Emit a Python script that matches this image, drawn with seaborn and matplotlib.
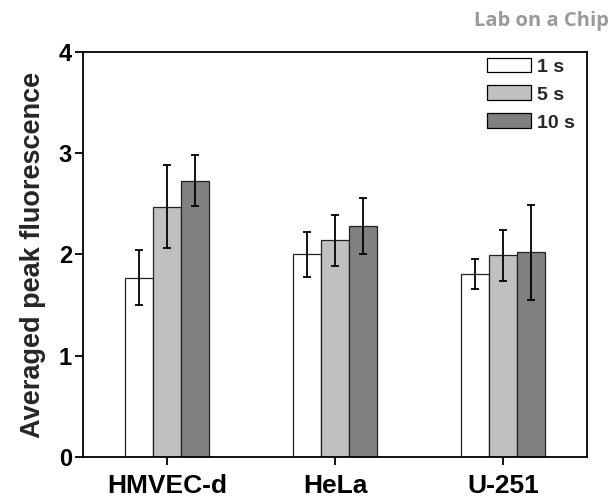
import matplotlib
matplotlib.use("Agg")
import matplotlib.pyplot as plt
import seaborn as sns
import pandas as pd
import numpy as np

cells = ["HMVEC-d", "HeLa", "U-251"]
times = ["1 s", "5 s", "10 s"]
means_1s = [1.77, 2.00, 1.81]
means_5s = [2.47, 2.14, 1.99]
means_10s = [2.73, 2.28, 2.02]
err_1s = [0.27, 0.22, 0.15]
err_5s = [0.41, 0.25, 0.25]
err_10s = [0.25, 0.28, 0.47]

sns.set_style("ticks")
plt.rcParams['font.family'] = ['Liberation Sans', 'DejaVu Sans']
plt.rcParams['font.weight'] = 'bold'

rows = []
for t, m in zip(times, [means_1s, means_5s, means_10s]):
    for c, v in zip(cells, m):
        rows.append({"cell": c, "time": t, "value": v})
df = pd.DataFrame(rows)

fig = plt.figure(figsize=(6.15, 4.97), dpi=100)
ax = fig.add_axes([0.135, 0.0805, 0.8195, 0.815])

palette = {"1 s": "#ffffff", "5 s": "#c0c0c0", "10 s": "#808080"}
sns.barplot(data=df, x="cell", y="value", hue="time", order=cells, hue_order=times,
            palette=palette, width=0.5, errorbar=None, edgecolor="#222222",
            linewidth=0.9, saturation=1, ax=ax)

errs = [err_1s, err_5s, err_10s]
for cont, e in zip(ax.containers, errs):
    xs = [p.get_x() + p.get_width() / 2 for p in cont]
    ys = [p.get_height() for p in cont]
    ax.errorbar(xs, ys, yerr=e, fmt="none", ecolor="black", elinewidth=1.3,
                capsize=3, capthick=1.3, zorder=5)

ax.set_ylim(0, 4)
ax.set_xlim(-0.5, 2.5)
ax.set_yticks([0, 1, 2, 3, 4])
ax.set_yticklabels(["0", "1", "2", "3", "4"], fontsize=17, fontweight="bold")
ax.set_xticks(range(len(cells)))
ax.set_xticklabels(cells, fontsize=19, fontweight="bold")
ax.set_xlabel("")
ax.set_ylabel("Averaged peak fluorescence", fontsize=19.5, fontweight="bold", labelpad=9)
for s in ax.spines.values():
    s.set_visible(True)
    s.set_linewidth(1.3)
    s.set_color("black")
ax.tick_params(axis="both", direction="out", length=6, width=1.3, colors="black")
ax.tick_params(axis="y", pad=2)
ax.tick_params(axis="x", pad=6)

leg = ax.legend(loc="upper right", frameon=False, handlelength=2.25,
                handleheight=0.8, labelspacing=0.5, handletextpad=0.35,
                borderaxespad=0.2, bbox_to_anchor=(1.0, 1.015),
                prop={"weight": "bold", "size": 14})
for h in leg.get_patches():
    h.set_edgecolor("black")
    h.set_linewidth(0.9)

fig.text(0.99, 0.978, "Lab on a Chip", ha="right", va="top", fontsize=14.5,
         color="#9a9a9a", fontweight="bold", family=["Open Sans", "DejaVu Sans"])

fig.savefig("out.png", dpi=100)
